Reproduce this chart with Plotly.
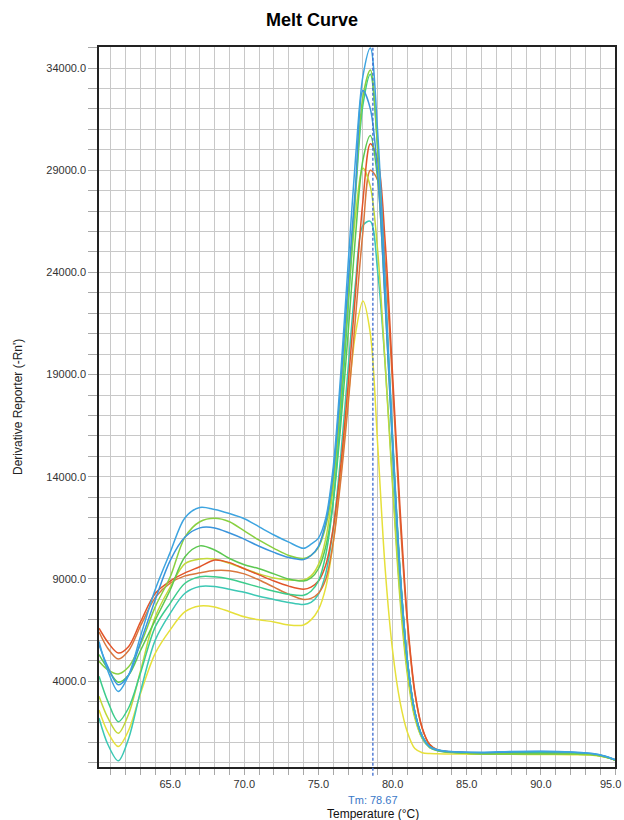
import plotly.graph_objects as go

# Temperature grid (°C)
TEMPS = [60.2, 60.8, 61.5, 62.2, 63, 64, 65, 66, 67, 68, 69, 70, 71, 72, 73, 74,
         74.5, 75, 75.5, 76, 76.5, 77, 77.5, 78, 78.5, 79, 79.5, 80, 80.5, 81,
         81.5, 82, 82.5, 83, 83.5, 84.5, 86, 88, 90, 92, 93.5, 94.3, 95]

# Derivative reporter (-Rn') per well
BLUE_1 = [5940, 4500, 3500, 4300, 6200, 8500, 10300, 12000, 12500, 12400, 12200, 11950, 11550, 11150, 10800, 10500,
          10700, 11000, 12000, 14500, 19000, 24400, 29600, 33600, 34980, 30800, 23500, 16000, 9500, 5000,
          2500, 1300, 800, 640, 580, 540, 520, 560, 570, 540, 460, 340, 160]
BLUE_2 = [5770, 4700, 3820, 4300, 5900, 8000, 9900, 11050, 11500, 11500, 11250, 10950, 10600, 10300, 10050, 9950,
          10150, 10600, 11800, 14200, 18500, 23500, 28200, 32900, 32000, 28800, 22500, 15500, 9300, 5000,
          2500, 1300, 800, 630, 570, 530, 500, 540, 560, 530, 450, 330, 150]
GREEN_1 = [4970, 4550, 4350, 4700, 5800, 7650, 9100, 11050, 11800, 11970, 11800, 11350, 10900, 10500, 10150, 10000,
           10150, 10550, 11600, 13800, 17800, 22800, 28000, 32600, 33900, 30000, 23000, 15800, 9400, 5000,
           2500, 1300, 800, 620, 560, 500, 440, 430, 420, 420, 400, 300, 140]
GREEN_2 = [5300, 4600, 3950, 4300, 5500, 7000, 8460, 10090, 10620, 10420, 10000, 9700, 9500, 9250, 9000, 8900,
           9050, 9500, 10600, 12800, 16500, 21000, 25800, 29500, 30700, 28500, 22500, 15500, 9300, 5000,
           2500, 1300, 800, 620, 560, 500, 450, 440, 430, 420, 400, 300, 140]
YELLOW_GREEN = [3260, 2200, 1450, 2400, 4500, 7160, 8600, 9750, 9980, 9980, 9770, 9500, 9250, 9050, 8950, 8950,
                9150, 9700, 11000, 13500, 17500, 22500, 26800, 29100, 28200, 25000, 19500, 13500, 8000, 4300,
                2200, 1200, 750, 600, 540, 490, 450, 440, 430, 420, 400, 300, 140]
RED_1 = [6590, 5900, 5380, 5700, 6900, 8300, 8900, 9300, 9600, 9930, 9800, 9500, 9200, 8900, 8650, 8500,
         8600, 8900, 9700, 11500, 14500, 18500, 23000, 27500, 30300, 29500, 25500, 19000, 12500, 7000,
         3500, 1700, 900, 650, 570, 520, 470, 470, 460, 450, 420, 320, 150]
RED_2 = [6420, 5600, 5080, 5500, 6700, 8100, 8800, 9150, 9300, 9410, 9400, 9250, 8950, 8600, 8250, 8000,
         8050, 8300, 9000, 10800, 13800, 17500, 21800, 26000, 29000, 28500, 24500, 18500, 12000, 6800,
         3400, 1700, 900, 650, 570, 520, 470, 470, 460, 450, 420, 320, 150]
TEAL_1 = [4240, 3000, 2020, 2700, 4400, 6670, 7810, 8790, 9110, 9110, 9000, 8800, 8600, 8400, 8250, 8200,
          8400, 8900, 10200, 12800, 17000, 22300, 27800, 32200, 33700, 30000, 23200, 15800, 9400, 5000,
          2500, 1300, 800, 620, 560, 510, 480, 500, 500, 480, 430, 320, 150]
TEAL_2 = [2200, 900, 100, 1200, 3500, 6020, 7320, 8300, 8630, 8630, 8500, 8350, 8150, 8000, 7850, 7750,
          7850, 8250, 9300, 11500, 15000, 19300, 23500, 26300, 26500, 24000, 19500, 13800, 8300, 4500,
          2300, 1200, 750, 600, 540, 500, 470, 490, 490, 470, 420, 320, 150]
YELLOW = [2590, 1500, 800, 1600, 3400, 5370, 6510, 7400, 7680, 7630, 7400, 7150, 7000, 6900, 6750, 6750,
          7000, 7500, 8600, 10800, 14000, 17800, 21000, 22600, 21000, 15500, 9500, 5500, 3000, 1500,
          700, 500, 460, 450, 440, 430, 420, 420, 410, 400, 380, 290, 140]

SERIES = [
    ("Yellow", YELLOW, "#e6e03a"),
    ("Teal 2", TEAL_2, "#3cc8b4"),
    ("Red 2", RED_2, "#d9773e"),
    ("Yellow-green", YELLOW_GREEN, "#c2d83a"),
    ("Red 1", RED_1, "#e2552a"),
    ("Green 2", GREEN_2, "#5cc850"),
    ("Teal 1", TEAL_1, "#3ccc8c"),
    ("Green 1", GREEN_1, "#88d040"),
    ("Blue 2", BLUE_2, "#3a94dc"),
    ("Blue 1", BLUE_1, "#3da4e0"),
]

TM = 78.67
X_MAX = 95.0
TITLE = "Melt Curve"
X_TITLE = "Temperature (°C)"
Y_TITLE = "Derivative Reporter (-Rn')"

fig = go.Figure()
for name, vals, col in SERIES:
    fig.add_trace(go.Scatter(
        x=TEMPS, y=vals, mode="lines", name=name,
        line=dict(color=col, width=1.5, shape="spline", smoothing=0.9),
        showlegend=False,
    ))

GRID = "#c8c8c8"
fig.add_shape(type="line", xref="x", yref="paper", x0=TM, x1=TM, y0=-0.012, y1=1,
              line=dict(color="#3a6ad0", width=1.3, dash="3px,2px"))

fig.update_layout(
    width=624, height=820,
    margin=dict(l=99, r=9, t=47, b=53, autoexpand=False),
    paper_bgcolor="white", plot_bgcolor="white",
    font=dict(family="Liberation Sans, Arial, sans-serif", size=11, color="#333333"),
    title=dict(text="<b>" + TITLE + "</b>", x=0.5, xref="container", y=1 - 20 / 820,
               yref="container", yanchor="middle", xanchor="center",
               font=dict(size=18, color="#000000", family="Liberation Sans, Arial, sans-serif")),
    xaxis=dict(
        range=[60.2, X_MAX], tick0=65, dtick=5, tickformat=".1f", automargin=False,
        showgrid=True, gridcolor=GRID, gridwidth=1.3,
        ticks="outside", ticklen=6, tickcolor="#a8a8a8",
        showline=True, linecolor="#222222", linewidth=1.5, mirror=True,
        zeroline=False,
        minor=dict(tick0=60, dtick=1, showgrid=True, gridcolor=GRID, gridwidth=1.3,
                   ticks="outside", ticklen=6, tickcolor="#a8a8a8"),
        tickfont=dict(size=11, color="#333333"),
    ),
    yaxis=dict(
        range=[-200, 35030], tick0=4000, dtick=5000, tickformat=".1f", automargin=False,
        showgrid=True, gridcolor=GRID, gridwidth=1.3,
        ticks="outside", ticklen=9, tickcolor="#a8a8a8",
        showline=True, linecolor="#222222", linewidth=1.5, mirror=True,
        zeroline=False,
        minor=dict(tick0=0, dtick=1000, showgrid=True, gridcolor=GRID, gridwidth=1.3,
                   ticks="outside", ticklen=9, tickcolor="#a8a8a8"),
        tickfont=dict(size=11, color="#333333"),
    ),
)

# last x tick label sits at the right edge: draw it right-aligned so it stays visible
fig.add_annotation(x=X_MAX, xref="x", y=0, yref="paper", yanchor="middle", xanchor="right",
                   xshift=8, yshift=-17, text=f"{X_MAX:.1f}", showarrow=False,
                   font=dict(size=11, color="#333333"))
fig.add_annotation(x=TM, xref="x", y=0, yref="paper", yanchor="middle", yshift=-33,
                   text="Tm: " + f"{TM:.2f}", showarrow=False,
                   font=dict(size=11, color="#3a78c8"))
fig.add_annotation(x=TM, xref="x", y=0, yref="paper", yanchor="middle", yshift=-47,
                   text=X_TITLE, showarrow=False,
                   font=dict(size=12, color="#111111"))
fig.add_annotation(x=(18 - 99) / (624 - 99 - 9), xref="paper", y=0.5, yref="paper",
                   text=Y_TITLE, showarrow=False, textangle=-90,
                   xanchor="center", yanchor="middle",
                   font=dict(size=12, color="#222222"))

fig.write_html("out.html")
